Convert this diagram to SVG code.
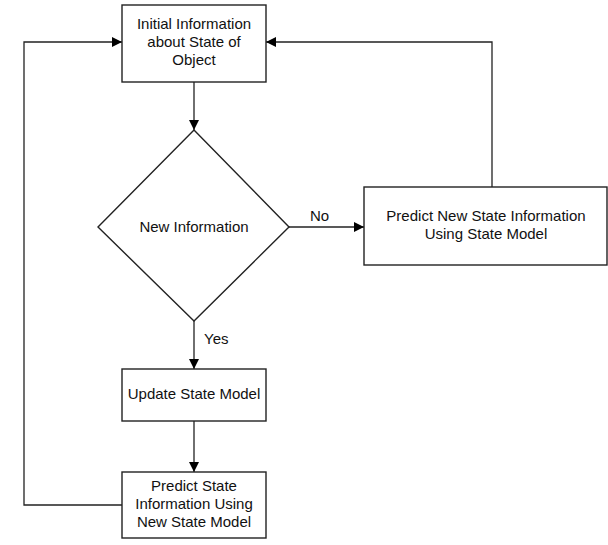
<svg xmlns="http://www.w3.org/2000/svg" width="608" height="545" viewBox="0 0 608 545">
<style>
.n{fill:#fff;stroke:#222;stroke-width:1.4}
.c{fill:none;stroke:#222;stroke-width:1.3}
text{font-family:"Liberation Sans",Arial,sans-serif;font-size:15px;fill:#111;text-anchor:middle}
.l{text-anchor:start}
</style>
<defs>
<marker id="a" viewBox="0 0 10 10" refX="10" refY="5" markerWidth="10" markerHeight="10" markerUnits="userSpaceOnUse" orient="auto">
<path d="M0,0 L10,5 L0,10 z" fill="#000"/>
</marker>
</defs>
<rect width="608" height="545" fill="#fff"/>
<g id="connectors">
<path class="c" d="M194,82 V130" marker-end="url(#a)"/>
<path class="c" d="M289,227 H364" marker-end="url(#a)"/>
<path class="c" d="M194,321 V369" marker-end="url(#a)"/>
<path class="c" d="M194,421 V472" marker-end="url(#a)"/>
<path class="c" d="M492,187 V42 H266" marker-end="url(#a)"/>
<path class="c" d="M122,505 H24 V42 H122" marker-end="url(#a)"/>
<text class="l" x="310" y="221">No</text>
<text class="l" x="204" y="344">Yes</text>
</g>
<g id="initial">
<rect class="n" x="122" y="5" width="144" height="77"/>
<text x="194" y="29">Initial Information</text>
<text x="194" y="47">about State of</text>
<text x="194" y="65">Object</text>
</g>
<g id="decision">
<path class="n" d="M194,130 L289,227 L194,321 L98,227 Z"/>
<text x="194" y="232">New Information</text>
</g>
<g id="predictNew">
<rect class="n" x="364" y="187" width="243" height="78"/>
<text x="486" y="221">Predict New State Information</text>
<text x="486" y="239">Using State Model</text>
</g>
<g id="update">
<rect class="n" x="122" y="369" width="144" height="52"/>
<text x="194" y="399">Update State Model</text>
</g>
<g id="predictState">
<rect class="n" x="122" y="472" width="144" height="66"/>
<text x="194" y="491">Predict State</text>
<text x="194" y="509">Information Using</text>
<text x="194" y="527">New State Model</text>
</g>
</svg>
